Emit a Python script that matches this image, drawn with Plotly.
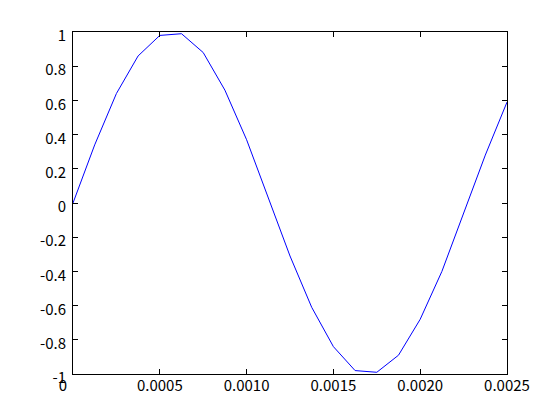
import plotly.graph_objects as go

# sample times (s) and signal values
t = [0.0, 0.000125, 0.00025, 0.000375, 0.0005, 0.000625, 0.00075, 0.000875,
     0.001, 0.001125, 0.00125, 0.001375, 0.0015, 0.001625, 0.00175, 0.001875,
     0.002, 0.002125, 0.00225, 0.002375, 0.0025]
y = [0.0, 0.34, 0.64, 0.86, 0.98, 0.99, 0.88, 0.66,
     0.37, 0.03, -0.31, -0.61, -0.84, -0.98, -0.99, -0.89,
     -0.68, -0.40, -0.06, 0.28, 0.59]

x_tickvals = [0, 0.0005, 0.001, 0.0015, 0.002, 0.0025]
x_ticktext = ["0\u2007\u2007\u00a0", "0.0005", "0.0010", "0.0015", "0.0020", "0.0025"]
y_tickvals = [-1, -0.8, -0.6, -0.4, -0.2, 0, 0.2, 0.4, 0.6, 0.8, 1]
y_ticktext = ["-1", "-0.8", "-0.6", "-0.4", "-0.2", "0", "0.2", "0.4", "0.6", "0.8", "1"]

fig = go.Figure()
fig.add_trace(go.Scatter(x=t, y=y, mode="lines",
                         line=dict(color="#0000ff", width=1), hoverinfo="skip"))

axis_common = dict(showgrid=False, zeroline=False, showline=True, linecolor="black",
                   linewidth=1, mirror="ticks", ticks="inside", ticklen=5,
                   tickcolor="black", tickwidth=1,
                   tickfont=dict(family="Noto Sans CJK JP", size=15, color="black"))

fig.update_layout(
    width=552, height=412,
    margin=dict(l=65, r=53, t=24, b=46),
    paper_bgcolor="white", plot_bgcolor="white",
    showlegend=False,
    xaxis=dict(range=[0, 0.0025], tickmode="array", tickvals=x_tickvals,
               ticktext=x_ticktext, ticklabelstandoff=-2, **axis_common),
    yaxis=dict(range=[-1, 1], tickmode="array", tickvals=y_tickvals,
               ticktext=y_ticktext, ticklabelshift=4, ticklabelstandoff=3,
               **axis_common),
)

fig.write_html("out.html")
